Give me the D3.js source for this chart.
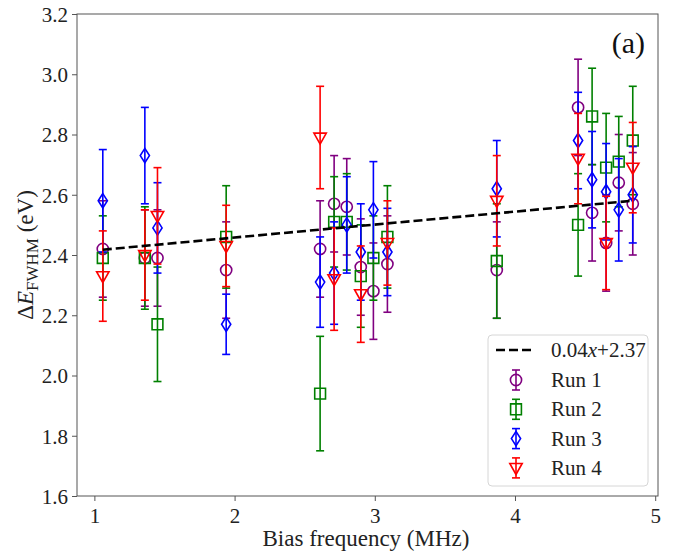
<!DOCTYPE html>
<html>
<head>
<meta charset="utf-8">
<script src="https://cdn.jsdelivr.net/npm/d3@7"></script>
<style>
  html, body { margin: 0; padding: 0; background: #fff; }
  svg { display: block; }
</style>
</head>
<body>
<svg id="chart" width="678" height="554"></svg>
<script>
// ---- data ----
const run1X   = [1.06, 1.36, 1.45, 1.94, 2.61, 2.71, 2.80, 2.90, 2.99, 3.09, 3.87, 4.45, 4.55, 4.65, 4.74, 4.84];
const run1Y   = [2.42, 2.39, 2.39, 2.35, 2.42, 2.57, 2.56, 2.36, 2.28, 2.37, 2.35, 2.89, 2.54, 2.44, 2.64, 2.57];
const run1Err = [0.16, 0.16, 0.16, 0.16, 0.16, 0.16, 0.16, 0.16, 0.16, 0.16, 0.16, 0.16, 0.16, 0.16, 0.16, 0.17];

const run2X   = [1.06, 1.36, 1.45, 1.94, 2.61, 2.71, 2.80, 2.90, 2.99, 3.09, 3.87, 4.45, 4.55, 4.65, 4.74, 4.84];
const run2Y   = [2.39, 2.39, 2.17, 2.46, 1.94, 2.51, 2.51, 2.33, 2.39, 2.46, 2.38, 2.50, 2.86, 2.69, 2.71, 2.78];
const run2Err = [0.14, 0.17, 0.19, 0.17, 0.19, 0.15, 0.16, 0.17, 0.14, 0.17, 0.19, 0.17, 0.16, 0.18, 0.15, 0.18];

const run3X   = [1.06, 1.36, 1.45, 1.94, 2.61, 2.71, 2.80, 2.90, 2.99, 3.09, 3.87, 4.45, 4.55, 4.65, 4.74, 4.84];
const run3Y   = [2.58, 2.73, 2.49, 2.17, 2.31, 2.34, 2.50, 2.41, 2.55, 2.41, 2.62, 2.78, 2.65, 2.61, 2.55, 2.60];
const run3Err = [0.17, 0.16, 0.15, 0.10, 0.15, 0.17, 0.16, 0.16, 0.16, 0.145, 0.16, 0.16, 0.16, 0.16, 0.17, 0.16];

const run4X   = [1.06, 1.36, 1.45, 1.94, 2.61, 2.71, 2.90, 3.09, 3.87, 4.45, 4.65, 4.84];
const run4Y   = [2.33, 2.40, 2.53, 2.43, 2.79, 2.32, 2.27, 2.44, 2.58, 2.72, 2.44, 2.69];
const run4Err = [0.15, 0.15, 0.16, 0.135, 0.17, 0.17, 0.16, 0.14, 0.15, 0.15, 0.155, 0.15];

const runNames   = ["Run 1", "Run 2", "Run 3", "Run 4"];
const runColors  = ["#800080", "#008000", "#0000ff", "#ff0000"];
const runMarkers = ["circle", "square", "diamond", "triangle"];

const fitSlope = 0.043;
const fitIntercept = 2.372;
const fitLabelPrefix = "0.04";
const fitLabelSuffix = "+2.37";

const xTicks = [1, 2, 3, 4, 5];
const yTicks = [1.6, 1.8, 2.0, 2.2, 2.4, 2.6, 2.8, 3.0, 3.2];
const xDomain = [0.876, 5.02];
const yDomain = [1.6, 3.2];

// ---- layout ----
const FONT = "Liberation Serif";
const svg = d3.select("#chart").attr("font-family", FONT);
const L = 77, R = 658, T = 14, B = 496;
const x = d3.scaleLinear().domain(xDomain).range([L, R]);
const y = d3.scaleLinear().domain(yDomain).range([B, T]);

const runs = [
  {x: run1X, y: run1Y, e: run1Err},
  {x: run2X, y: run2Y, e: run2Err},
  {x: run3X, y: run3Y, e: run3Err},
  {x: run4X, y: run4Y, e: run4Err}
].map((r, i) => ({
  name: runNames[i], color: runColors[i], marker: runMarkers[i],
  pts: r.x.map((xv, j) => ({x: xv, y: r.y[j], e: r.e[j]}))
}));

function markerPath(type) {
  switch (type) {
    case "circle": { const p = d3.path(); p.arc(0, 0, 5.6, 0, 2 * Math.PI); p.closePath(); return p.toString(); }
    case "square": return "M-5.4,-5.4H5.4V5.4H-5.4Z";
    case "diamond": return "M0,-7.2L4.6,0L0,7.2L-4.6,0Z";
    case "triangle": return "M-6.2,-4.4L6.2,-4.4L0,6.6Z";
  }
}

const axisColor = "#555";
const xAxis = d3.axisBottom(x).tickValues(xTicks).tickFormat(d3.format("d")).tickSizeInner(5).tickSizeOuter(0);
const yAxis = d3.axisLeft(y).tickValues(yTicks).tickFormat(d3.format(".1f")).tickSizeInner(5).tickSizeOuter(0);

const gx = svg.append("g").attr("transform", `translate(0,${B})`).call(xAxis);
const gy = svg.append("g").attr("transform", `translate(${L},0)`).call(yAxis);
[gx, gy].forEach(g => {
  g.attr("font-family", FONT).attr("font-size", 21);
  g.select(".domain").remove();
  g.selectAll(".tick line").attr("stroke", axisColor).attr("stroke-width", 1);
  g.selectAll(".tick text").attr("fill", "#222");
});
gx.selectAll(".tick text").attr("dy", "0.95em").attr("y", 7);
gy.selectAll(".tick text").attr("x", -9).attr("dy", "0.35em");

svg.append("rect").attr("x", L).attr("y", T).attr("width", R - L).attr("height", B - T)
  .attr("fill", "none").attr("stroke", axisColor).attr("stroke-width", 1);

const plot = svg.append("g");
const cap = 4;
runs.forEach(run => {
  const g = plot.append("g");
  const eb = g.selectAll("g.eb").data(run.pts).enter().append("g").attr("class", "eb");
  eb.append("line").attr("x1", d => x(d.x)).attr("x2", d => x(d.x))
    .attr("y1", d => y(d.y - d.e)).attr("y2", d => y(d.y + d.e))
    .attr("stroke", run.color).attr("stroke-width", 1.6);
  eb.append("line").attr("x1", d => x(d.x) - cap).attr("x2", d => x(d.x) + cap)
    .attr("y1", d => y(d.y + d.e)).attr("y2", d => y(d.y + d.e))
    .attr("stroke", run.color).attr("stroke-width", 1.6);
  eb.append("line").attr("x1", d => x(d.x) - cap).attr("x2", d => x(d.x) + cap)
    .attr("y1", d => y(d.y - d.e)).attr("y2", d => y(d.y - d.e))
    .attr("stroke", run.color).attr("stroke-width", 1.6);
  g.selectAll("path.m").data(run.pts).enter().append("path").attr("class", "m")
    .attr("d", markerPath(run.marker))
    .attr("transform", d => `translate(${x(d.x)},${y(d.y)})`)
    .attr("fill", "none").attr("stroke", run.color).attr("stroke-width", 1.6);
});

const allX = runs.flatMap(r => r.pts.map(p => p.x));
const fx = d3.extent(allX);
svg.append("line")
  .attr("x1", x(fx[0])).attr("y1", y(fitSlope * fx[0] + fitIntercept))
  .attr("x2", x(fx[1])).attr("y2", y(fitSlope * fx[1] + fitIntercept))
  .attr("stroke", "#000").attr("stroke-width", 2.6).attr("stroke-dasharray", "9,4");

svg.append("text").attr("x", 645).attr("y", 53).attr("text-anchor", "end")
  .attr("font-size", 30).attr("fill", "#111").text("(a)");

svg.append("text").attr("x", 366).attr("y", 546).attr("text-anchor", "middle")
  .attr("font-size", 23).attr("fill", "#222").text("Bias frequency (MHz)");

const yl = svg.append("text").attr("transform", `translate(33,${(T + B) / 2}) rotate(-90)`)
  .attr("text-anchor", "middle").attr("font-size", 23).attr("fill", "#222");
yl.append("tspan").text("Δ");
yl.append("tspan").attr("font-style", "italic").text("E");
yl.append("tspan").attr("dy", 5).attr("font-size", 17).text("FWHM");
yl.append("tspan").attr("dy", -5).text(" (eV)");

const lg = svg.append("g");
lg.append("rect").attr("x", 488).attr("y", 335).attr("width", 160).attr("height", 151)
  .attr("rx", 4).attr("fill", "#fff").attr("fill-opacity", 0.8)
  .attr("stroke", "#d6d6d6").attr("stroke-width", 1);
lg.append("line").attr("x1", 496).attr("x2", 532).attr("y1", 350).attr("y2", 350)
  .attr("stroke", "#000").attr("stroke-width", 2.6).attr("stroke-dasharray", "9,4");
const ft = lg.append("text").attr("x", 551).attr("y", 357).attr("font-size", 21).attr("fill", "#222");
ft.append("tspan").text(fitLabelPrefix);
ft.append("tspan").attr("font-style", "italic").text("x");
ft.append("tspan").text(fitLabelSuffix);

runs.forEach((run, i) => {
  const cy = 380 + i * 29.3, cx = 516;
  const g = lg.append("g");
  g.append("line").attr("x1", cx).attr("x2", cx).attr("y1", cy - 10).attr("y2", cy + 10)
    .attr("stroke", run.color).attr("stroke-width", 1.6);
  [cy - 10, cy + 10].forEach(yy => g.append("line").attr("x1", cx - cap).attr("x2", cx + cap)
    .attr("y1", yy).attr("y2", yy).attr("stroke", run.color).attr("stroke-width", 1.6));
  g.append("path").attr("d", markerPath(run.marker)).attr("transform", `translate(${cx},${cy})`)
    .attr("fill", "none").attr("stroke", run.color).attr("stroke-width", 1.6);
  g.append("text").attr("x", 551).attr("y", cy + 7).attr("font-size", 21)
    .attr("fill", "#222").text(run.name);
});
</script>
</body>
</html>
